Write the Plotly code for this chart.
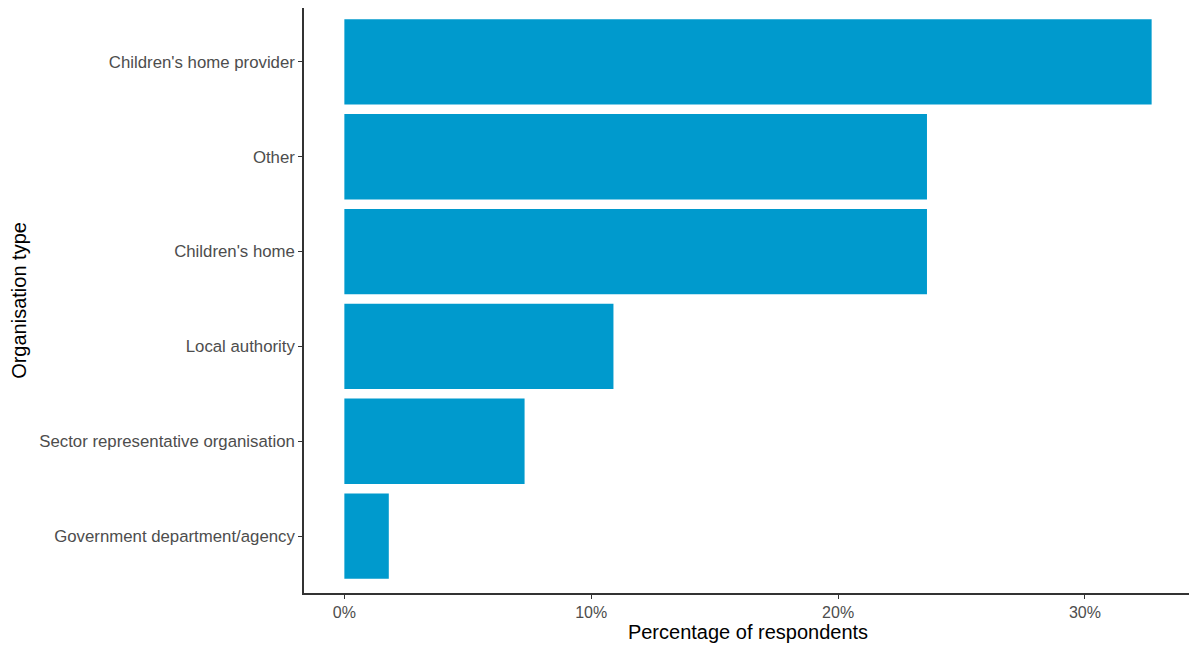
import plotly.graph_objects as go

categories = ["Government department/agency", "Sector representative organisation",
              "Local authority", "Children's home", "Other", "Children's home provider"]
percentages = [1.8, 7.3, 10.9, 23.6, 23.6, 32.7]
tick_values = [0, 10, 20, 30]
tick_labels = ["0%", "10%", "20%", "30%"]

fig = go.Figure(go.Bar(
    x=percentages, y=categories, orientation="h",
    marker=dict(color="#009ACD", line=dict(width=0)),
    width=0.9,
))

xmax = max(percentages)
pad = 0.05 * xmax
fig.update_layout(
    width=1189, height=641,
    margin=dict(l=296, r=5, t=0, b=56),
    plot_bgcolor="white", paper_bgcolor="white",
    font=dict(family="Liberation Sans, Arial, sans-serif"),
    showlegend=False,
    bargap=0.1,
)
fig.update_xaxes(
    range=[-pad, xmax + pad],
    tickvals=tick_values, ticktext=tick_labels,
    showgrid=False, zeroline=False,
    showline=True, linecolor="#333333", linewidth=1.5,
    ticks="outside", ticklen=4, tickcolor="#333333", tickwidth=1.2,
    tickfont=dict(size=16, color="#4D4D4D"),
    title=dict(text="Percentage of respondents", font=dict(size=20, color="black"), standoff=4),
)
fig.update_yaxes(
    range=[-0.6, len(categories) - 0.432],
    showgrid=False, zeroline=False,
    showline=True, linecolor="#333333", linewidth=1.5,
    ticks="outside", ticklen=4, tickcolor="#333333", tickwidth=1.2,
    tickfont=dict(size=16.8, color="#4D4D4D"),
    title=dict(text="Organisation type", font=dict(size=20, color="black"), standoff=18),
)

fig.write_html("out.html")
